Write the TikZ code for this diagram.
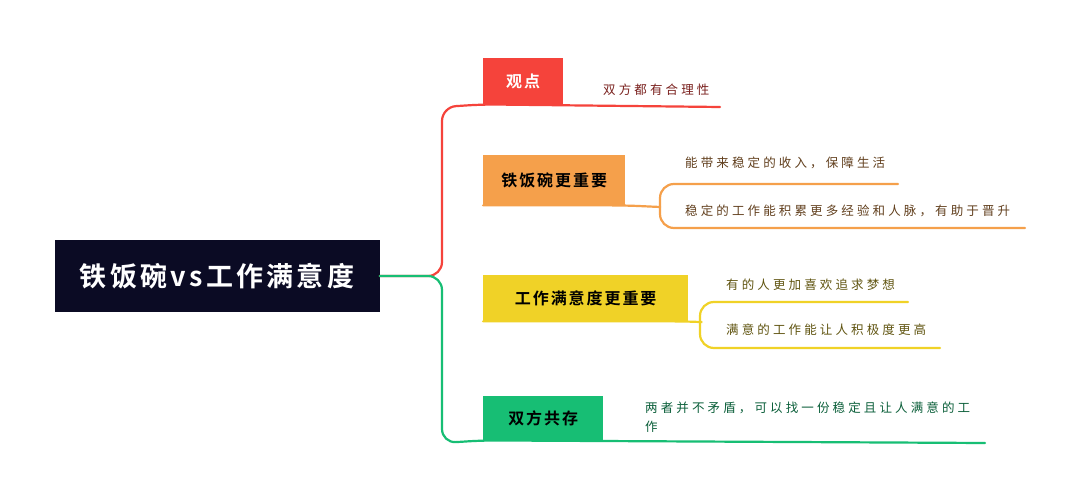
\documentclass[tikz,border=0pt]{standalone}
\usepackage{fontspec}
\setmainfont{Noto Sans CJK SC}[LetterSpace=25]
\newfontfamily\cjkbold{Noto Sans CJK SC Bold}[LetterSpace=12]
\usetikzlibrary{positioning}
\definecolor{rootbg}{HTML}{0B0B24}
\definecolor{cred}{HTML}{F5433B}
\definecolor{corange}{HTML}{F5A04B}
\definecolor{cyellow}{HTML}{F0D227}
\definecolor{cgreen}{HTML}{17BE74}

\begin{document}
\begin{tikzpicture}[x=1pt, y=-1pt,
    topic/.style = {fill=#1, minimum height=46pt, anchor=north west, font=\cjkbold\fontsize{16}{18}\selectfont, inner xsep=16pt},
    leaf/.style = {anchor=west, font=\fontsize{12.5}{14}\selectfont, inner sep=0pt},
    edge/.style = {line width=2.2pt, line cap=round, rounded corners=14pt}]

    \useasboundingbox[fill=white] (0,0) rectangle (1080,502);

    \node[fill=rootbg, text=white, minimum width=325pt, minimum height=72pt, font=\cjkbold\fontsize{27}{30}\selectfont] (root) at (217,276) {铁饭碗vs工作满意度};

    \node[topic=cred, text=white, minimum width=80pt] (view) at (483,58) {观点};
    \node[topic=corange, minimum width=142pt, minimum height=50pt] (iron) at (483,155) {铁饭碗更重要};
    \node[topic=cyellow, minimum width=205pt] (happy) at (483,275) {工作满意度更重要};
    \node[topic=cgreen, minimum width=120pt, minimum height=44pt] (both) at (483,396) {双方共存};

    \node[leaf, text=cred!50!black] (v1) at (603,90) {双方都有合理性};
    \node[leaf, text=corange!40!black] (i1) at (685,163) {能带来稳定的收入，保障生活};
    \node[leaf, text=corange!40!black] (i2) at (685,211) {稳定的工作能积累更多经验和人脉，有助于晋升};
    \node[leaf, text=cyellow!40!black] (h1) at (726,285) {有的人更加喜欢追求梦想};
    \node[leaf, text=cyellow!40!black] (h2) at (726,330) {满意的工作能让人积极度更高};
    \node[leaf, text=cgreen!50!black, align=left, font=\fontsize{12.5}{19}\selectfont] (b1) at (645,417) {两者并不矛盾，可以找一份稳定且让人满意的工\\作};

    % spine
    \draw[edge, cred] (root.east) -| (442,107) -- (view.south west) -- (720,107);
    \draw[edge, cgreen] (root.east) -| (442,443) -- (both.south west) -- (985,443);

    % underlines
    \draw[edge, corange] (iron.south west) -- (iron.south east) -- (660,207);
    \draw[edge, corange] (660,207) |- (898,184);
    \draw[edge, corange] (660,207) |- (1025,228);
    \draw[edge, cyellow] (happy.south west) -- (happy.south east) -- (700,322);
    \draw[edge, cyellow] (700,322) |- (908,302);
    \draw[edge, cyellow] (700,322) |- (940,348);

\end{tikzpicture}
\end{document}
